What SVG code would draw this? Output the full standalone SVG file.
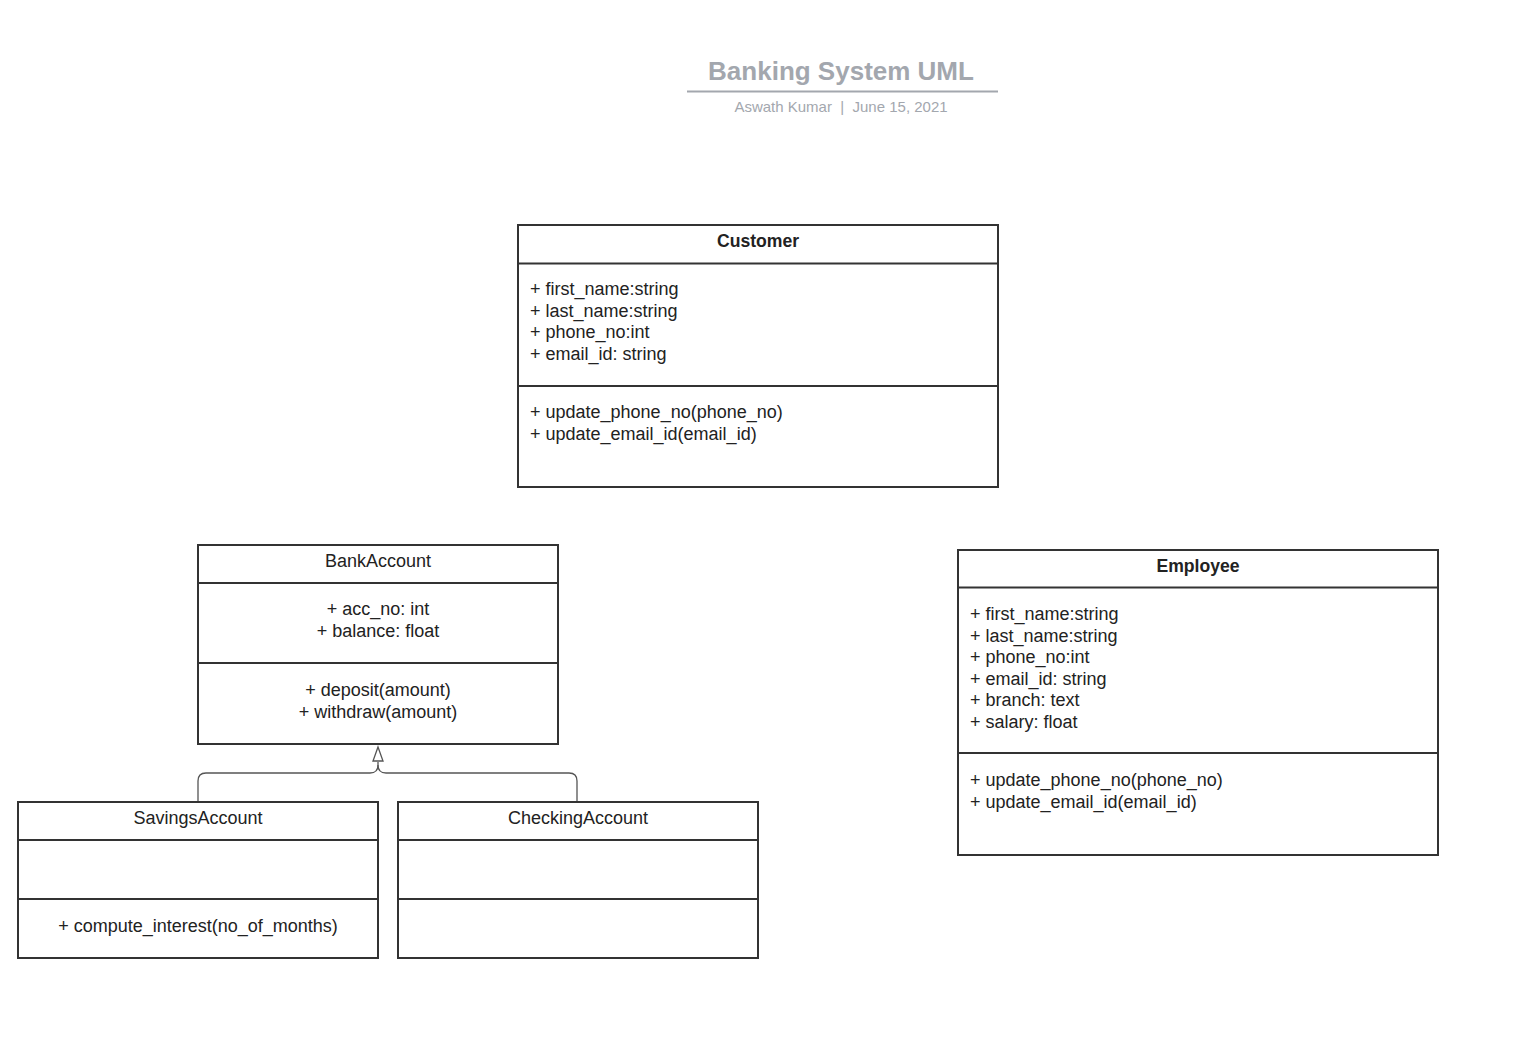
<svg xmlns="http://www.w3.org/2000/svg" width="1535" height="1045" viewBox="0 0 1535 1045">
<defs>
<style>
.box{fill:#fff;stroke:#333;stroke-width:2}
.div{stroke:#333;stroke-width:2}
.t{font-family:"Liberation Sans",Arial,sans-serif;font-size:18px;fill:#222}
.b{font-weight:bold;font-size:17.6px}
.c{text-anchor:middle}
.conn{fill:none;stroke:#555;stroke-width:1.3}
</style>
</defs>
<rect width="1535" height="1045" fill="#fff"/>
<g id="title">
<text x="841" y="80" class="c" style="font-family:'Liberation Sans',Arial,sans-serif;font-size:26px;font-weight:bold;fill:#a3a7ae">Banking System UML</text>
<line x1="687" y1="91.5" x2="998" y2="91.5" stroke="#a3a7ae" stroke-width="2"/>
<text x="841" y="112" class="c" xml:space="preserve" style="font-family:'Liberation Sans',Arial,sans-serif;font-size:15px;fill:#a3a7ae;white-space:pre">Aswath Kumar  |  June 15, 2021</text>
</g>
<g id="connectors">
<path class="conn" d="M198,801 V781 Q198,773 206,773 H370 Q378,773 378,765 V762"/>
<path class="conn" d="M577,801 V781 Q577,773 569,773 H386 Q378,773 378,765"/>
<path d="M378,747 L383,761 L373,761 Z" fill="#fff" stroke="#555" stroke-width="1.3"/>
</g>
<g id="customer">
<rect class="box" x="518" y="225" width="480" height="262"/>
<line class="div" x1="518" y1="263.5" x2="998" y2="263.5"/>
<line class="div" x1="518" y1="386" x2="998" y2="386"/>
<text class="t b c" x="758" y="247">Customer</text>
<text class="t" x="530" y="295">+ first_name:string</text>
<text class="t" x="530" y="317">+ last_name:string</text>
<text class="t" x="530" y="338">+ phone_no:int</text>
<text class="t" x="530" y="360">+ email_id: string</text>
<text class="t" x="530" y="418">+ update_phone_no(phone_no)</text>
<text class="t" x="530" y="440">+ update_email_id(email_id)</text>
</g>
<g id="bankaccount">
<rect class="box" x="198" y="545" width="360" height="199"/>
<line class="div" x1="198" y1="583" x2="558" y2="583"/>
<line class="div" x1="198" y1="663" x2="558" y2="663"/>
<text class="t c" x="378" y="567">BankAccount</text>
<text class="t c" x="378" y="615">+ acc_no: int</text>
<text class="t c" x="378" y="637">+ balance: float</text>
<text class="t c" x="378" y="696">+ deposit(amount)</text>
<text class="t c" x="378" y="718">+ withdraw(amount)</text>
</g>
<g id="savingsaccount">
<rect class="box" x="18" y="802" width="360" height="156"/>
<line class="div" x1="18" y1="840" x2="378" y2="840"/>
<line class="div" x1="18" y1="899" x2="378" y2="899"/>
<text class="t c" x="198" y="824">SavingsAccount</text>
<text class="t c" x="198" y="932">+ compute_interest(no_of_months)</text>
</g>
<g id="checkingaccount">
<rect class="box" x="398" y="802" width="360" height="156"/>
<line class="div" x1="398" y1="840" x2="758" y2="840"/>
<line class="div" x1="398" y1="899" x2="758" y2="899"/>
<text class="t c" x="578" y="824">CheckingAccount</text>
</g>
<g id="employee">
<rect class="box" x="958" y="550" width="480" height="305"/>
<line class="div" x1="958" y1="587.5" x2="1438" y2="587.5"/>
<line class="div" x1="958" y1="753" x2="1438" y2="753"/>
<text class="t b c" x="1198" y="572">Employee</text>
<text class="t" x="970" y="620">+ first_name:string</text>
<text class="t" x="970" y="642">+ last_name:string</text>
<text class="t" x="970" y="663">+ phone_no:int</text>
<text class="t" x="970" y="685">+ email_id: string</text>
<text class="t" x="970" y="706">+ branch: text</text>
<text class="t" x="970" y="728">+ salary: float</text>
<text class="t" x="970" y="786">+ update_phone_no(phone_no)</text>
<text class="t" x="970" y="808">+ update_email_id(email_id)</text>
</g>
</svg>
